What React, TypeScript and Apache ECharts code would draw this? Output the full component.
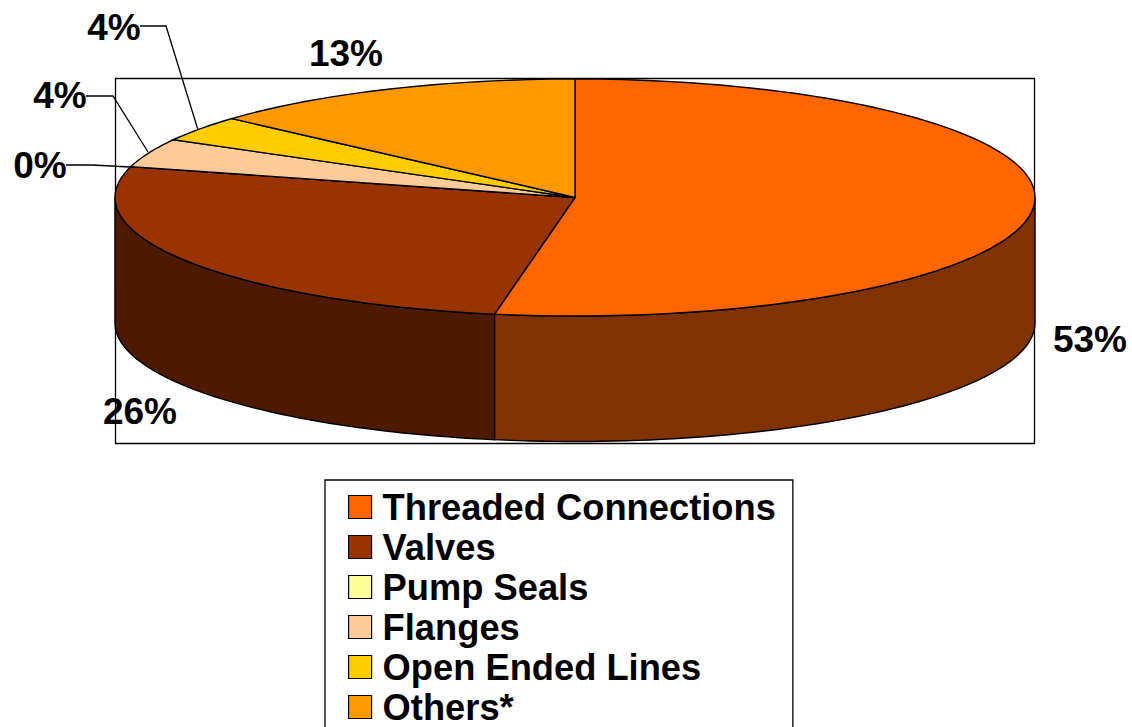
import React, { useEffect, useRef } from "react";
import * as echarts from "echarts";

const categories = ["Threaded Connections", "Valves", "Pump Seals", "Flanges", "Open Ended Lines", "Others*"];
const shares = [52.8, 26.4, 0, 3.9, 3.5, 13.4];
const topColors = ["#ff6600", "#993300", "#ffff99", "#ffcc99", "#ffcc00", "#ff9900"];
const wallColors = ["#803300", "#4d1a00", "#808050", "#806650", "#806600", "#804d00"];
const labelAnchors: number[][] = [[1090, 339], [140, 411], [40, 165], [60, 95], [114, 27], [346, 53]];
const leaders: number[][][] = [
  [],
  [],
  [[66, 165], [92, 165], [130, 167]],
  [[86, 96], [113, 96], [148, 152]],
  [[140, 26], [166, 26], [198, 130]],
  [],
];

const CX = 575;
const CY = 197.5;
const RX = 460;
const RY = 118.5;
const DEPTH = 125.5;
const FONT = "Liberation Sans, Arial, sans-serif";

const total = shares.reduce((a, b) => a + b, 0);

function pt(deg: number, dy = 0): number[] {
  const r = (deg * Math.PI) / 180;
  return [CX + RX * Math.sin(r), CY - RY * Math.cos(r) + dy];
}

function arc(a0: number, a1: number, dy = 0): number[][] {
  const n = Math.max(2, Math.ceil(Math.abs(a1 - a0) / 1.5));
  const out: number[][] = [];
  for (let i = 0; i <= n; i++) out.push(pt(a0 + ((a1 - a0) * i) / n, dy));
  return out;
}

function renderSlice(params: any, api: any) {
  const idx = params.seriesIndex;
  const value = api.value(0);
  let before = 0;
  for (let i = 0; i < idx; i++) before += shares[i];
  const a0 = (before / total) * 360;
  const a1 = a0 + (value / total) * 360;
  const children: any[] = [];
  const w0 = Math.max(a0, 90);
  const w1 = Math.min(a1, 270);
  if (w1 > w0) {
    children.push({
      type: "polygon",
      shape: { points: [...arc(w0, w1), ...arc(w1, w0, DEPTH)] },
      style: { fill: wallColors[idx], stroke: "#000", lineWidth: 1.4 },
    });
  }
  children.push({
    type: "polygon",
    shape: { points: [[CX, CY], ...arc(a0, a1)] },
    style: { fill: topColors[idx], stroke: "#000", lineWidth: 1.4 },
  });
  if (leaders[idx].length) {
    children.push({
      type: "polyline",
      shape: { points: leaders[idx] },
      style: { fill: "none", stroke: "#000", lineWidth: 1.3 },
    });
  }
  children.push({
    type: "text",
    style: {
      text: `${Math.round(value)}%`,
      x: labelAnchors[idx][0],
      y: labelAnchors[idx][1],
      align: "center",
      verticalAlign: "middle",
      fill: "#000",
      font: `bold 37px ${FONT}`,
    },
  });
  return { type: "group", children };
}

export default function App() {
  const ref = useRef<HTMLDivElement>(null);
  useEffect(() => {
    document.body.style.margin = "0";
    const chart = echarts.init(ref.current!, undefined, { renderer: "svg" });
    chart.setOption({
      animation: false,
      backgroundColor: "#fff",
      legend: {
        left: 325,
        top: 480,
        height: 300,
        orient: "vertical",
        data: categories,
        icon: "rect",
        itemWidth: 23,
        itemHeight: 23,
        itemGap: 4,
        padding: [9, 17, 25, 23],
        borderColor: "#000",
        borderWidth: 1.3,
        selectedMode: false,
        itemStyle: { borderColor: "#000", borderWidth: 1.2 },
        textStyle: {
          fontFamily: FONT,
          fontWeight: "bold",
          fontSize: 36.3,
          lineHeight: 36,
          color: "#000",
          padding: [0, 0, 0, 6],
        },
      },
      graphic: [
        {
          type: "rect",
          silent: true,
          shape: { x: 115.5, y: 78.5, width: 919, height: 365 },
          style: { fill: "none", stroke: "#000", lineWidth: 1.3 },
        },
      ],
      series: categories.map((name, i) => ({
        type: "custom",
        name,
        coordinateSystem: "none",
        silent: true,
        clip: false,
        itemStyle: { color: topColors[i] },
        data: [[shares[i]]],
        renderItem: renderSlice,
      })),
    });
    return () => chart.dispose();
  }, []);
  return <div ref={ref} style={{ width: 1132, height: 727 }} />;
}
